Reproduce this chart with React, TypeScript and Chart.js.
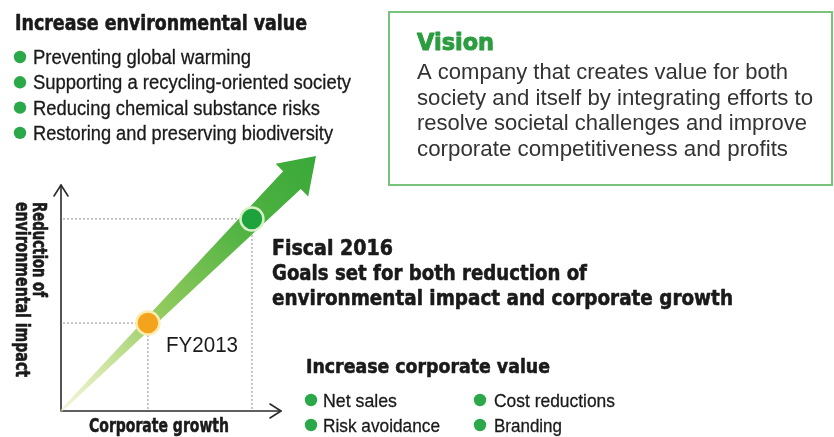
import React, { useEffect, useRef } from 'react';
import { Chart, registerables } from 'chart.js';

Chart.register(...registerables);

const W = 834;
const H = 437;

// ---- data ----
const milestoneLabels = ['FY2013', 'Fiscal 2016'];
const corporateGrowth = [39.5, 86.8];
const impactReduction = [38.9, 85.0];
const arrowTip = [115.9, 112.8];
const axisMax = [100, 100];

const envTitle = 'Increase environmental value';
const envItems = [
  'Preventing global warming',
  'Supporting a recycling-oriented society',
  'Reducing chemical substance risks',
  'Restoring and preserving biodiversity',
];
const visionTitle = 'Vision';
const visionLines = [
  'A company that creates value for both',
  'society and itself by integrating efforts to',
  'resolve societal challenges and improve',
  'corporate competitiveness and profits',
];
const goalLines = [
  'Fiscal 2016',
  'Goals set for both reduction of',
  'environmental impact and corporate growth',
];
const corpTitle = 'Increase corporate value';
const corpItems = ['Net sales', 'Cost reductions', 'Risk avoidance', 'Branding'];
const yAxisLines = ['Reduction of', 'environmental impact'];
const xAxisTitle = 'Corporate growth';

// ---- layout ----
const FONT = "'Liberation Sans', Arial, sans-serif";
const HEAVY = "'DejaVu Sans', 'Liberation Sans', sans-serif";
const BULLET_GREEN = '#2aa84a';
const TEXT = '#1a1a1a';

function fitText(
  ctx: CanvasRenderingContext2D,
  text: string,
  x: number,
  y: number,
  font: string,
  color: string,
  width: number,
  stroke = 0
) {
  ctx.save();
  ctx.font = font;
  ctx.textBaseline = 'alphabetic';
  ctx.textAlign = 'left';
  const w = ctx.measureText(text).width;
  const s = width / w;
  ctx.translate(x, y);
  ctx.scale(s, 1);
  ctx.fillStyle = color;
  ctx.fillText(text, 0, 0);
  if (stroke > 0) {
    ctx.strokeStyle = color;
    ctx.lineWidth = stroke;
    ctx.lineJoin = 'round';
    ctx.strokeText(text, 0, 0);
  }
  ctx.restore();
}

function dot(ctx: CanvasRenderingContext2D, x: number, y: number, r: number) {
  ctx.save();
  ctx.fillStyle = BULLET_GREEN;
  ctx.beginPath();
  ctx.arc(x, y, r, 0, Math.PI * 2);
  ctx.fill();
  ctx.restore();
}

const infographic = {
  id: 'infographic',
  beforeDatasetsDraw(chart: any) {
    const ctx: CanvasRenderingContext2D = chart.ctx;
    const xs = chart.scales.x;
    const ys = chart.scales.y;
    const x0 = xs.getPixelForValue(0);
    const y0 = ys.getPixelForValue(0);
    const xEnd = xs.getPixelForValue(axisMax[0]);
    const yEnd = ys.getPixelForValue(axisMax[1]);

    ctx.save();
    // axes
    ctx.strokeStyle = '#2b2b2b';
    ctx.lineWidth = 1.6;
    ctx.lineCap = 'round';
    ctx.lineJoin = 'round';
    ctx.beginPath();
    ctx.moveTo(x0, y0);
    ctx.lineTo(x0, yEnd);
    ctx.moveTo(x0, y0);
    ctx.lineTo(xEnd, y0);
    ctx.stroke();
    ctx.beginPath();
    ctx.moveTo(x0 - 7, yEnd + 11);
    ctx.lineTo(x0, yEnd);
    ctx.lineTo(x0 + 7, yEnd + 11);
    ctx.stroke();
    ctx.beginPath();
    ctx.moveTo(xEnd - 11, y0 - 7);
    ctx.lineTo(xEnd, y0);
    ctx.lineTo(xEnd - 11, y0 + 7);
    ctx.stroke();

    // dashed guides
    ctx.strokeStyle = '#8c8c8c';
    ctx.lineWidth = 1;
    ctx.lineCap = 'butt';
    ctx.setLineDash([2, 2]);
    for (let i = 0; i < corporateGrowth.length; i++) {
      const px = xs.getPixelForValue(corporateGrowth[i]);
      const py = ys.getPixelForValue(impactReduction[i]);
      ctx.beginPath();
      ctx.moveTo(x0 + 2, py);
      ctx.lineTo(px, py);
      ctx.moveTo(px, py);
      ctx.lineTo(px, y0 - 1);
      ctx.stroke();
    }
    ctx.setLineDash([]);

    // growth arrow
    const tx = xs.getPixelForValue(arrowTip[0]);
    const ty = ys.getPixelForValue(arrowTip[1]);
    const dx = tx - x0;
    const dy = ty - y0;
    const L = Math.hypot(dx, dy);
    const ux = dx / L;
    const uy = dy / L;
    const nx = -uy;
    const ny = ux;
    const headLen = 34;
    const headHalf = 23;
    const shaftHalf = 12.5;
    const startHalf = 1.2;
    const bx = tx - ux * headLen;
    const by = ty - uy * headLen;
    const g = ctx.createLinearGradient(x0, y0, tx, ty);
    g.addColorStop(0, 'rgba(228,238,185,0.55)');
    g.addColorStop(0.18, '#cde4a0');
    g.addColorStop(0.4, '#8fca5c');
    g.addColorStop(0.7, '#52b443');
    g.addColorStop(1, '#39a838');
    ctx.fillStyle = g;
    ctx.beginPath();
    ctx.moveTo(x0 + nx * startHalf, y0 + ny * startHalf);
    ctx.lineTo(bx + nx * shaftHalf, by + ny * shaftHalf);
    ctx.lineTo(bx + nx * headHalf, by + ny * headHalf);
    ctx.lineTo(tx, ty);
    ctx.lineTo(bx - nx * headHalf, by - ny * headHalf);
    ctx.lineTo(bx - nx * shaftHalf, by - ny * shaftHalf);
    ctx.lineTo(x0 - nx * startHalf, y0 - ny * startHalf);
    ctx.closePath();
    ctx.fill();
    ctx.restore();
  },
  afterDraw(chart: any) {
    const ctx: CanvasRenderingContext2D = chart.ctx;
    ctx.save();

    // environmental value block
    fitText(ctx, envTitle, 15, 30, `bold 21px ${HEAVY}`, TEXT, 292, 0.6);
    const envW = [218, 318, 287, 300];
    envItems.forEach((t, i) => {
      const cy = 57 + i * 25.3;
      dot(ctx, 20, cy, 6.2);
      fitText(ctx, t, 33, cy + 7, `20px ${FONT}`, TEXT, envW[i], 0.3);
    });

    // vision box
    ctx.strokeStyle = '#78c27b';
    ctx.lineWidth = 2;
    ctx.strokeRect(389, 12, 443, 173);
    fitText(ctx, visionTitle, 417, 50, `bold 23px ${HEAVY}`, '#2c9c40', 77, 1.0);
    const visW = [371, 396, 390, 371];
    visionLines.forEach((t, i) => {
      fitText(ctx, t, 417, 79 + i * 25.5, `22px ${FONT}`, '#333333', visW[i]);
    });

    // goal text
    const goalW = [121, 315, 461];
    goalLines.forEach((t, i) => {
      fitText(ctx, t, 272, 255 + i * 25, `bold 21px ${HEAVY}`, TEXT, goalW[i], 0.6);
    });

    // FY2013 label
    fitText(ctx, milestoneLabels[0], 166, 352, `22px ${FONT}`, TEXT, 72);

    // axis titles
    fitText(ctx, xAxisTitle, 89, 432, `bold 20px ${HEAVY}`, TEXT, 140, 0.6);
    const yW = [95, 175];
    const yBase = [33, 16];
    yAxisLines.forEach((t, i) => {
      ctx.save();
      ctx.translate(yBase[i], 202);
      ctx.rotate(Math.PI / 2);
      fitText(ctx, t, 0, 0, `bold 19px ${HEAVY}`, TEXT, yW[i], 0.6);
      ctx.restore();
    });

    // corporate value block
    fitText(ctx, corpTitle, 306, 373, `bold 20px ${HEAVY}`, TEXT, 244, 0.6);
    const corpX = [323, 494, 323, 494];
    const corpDotX = [311, 480, 311, 480];
    const corpY = [400, 400, 425, 425];
    const corpW = [74, 121, 117, 68];
    corpItems.forEach((t, i) => {
      dot(ctx, corpDotX[i], corpY[i], 6.2);
      fitText(ctx, t, corpX[i], corpY[i] + 7, `19px ${FONT}`, TEXT, corpW[i], 0.3);
    });

    ctx.restore();
  },
};

export default function App() {
  const ref = useRef<HTMLCanvasElement | null>(null);

  useEffect(() => {
    document.body.style.margin = '0';
    if (!ref.current) return;
    const chart = new Chart(ref.current, {
      type: 'scatter',
      data: {
        datasets: [
          {
            label: 'Milestones',
            data: corporateGrowth.map((x, i) => ({ x, y: impactReduction[i] })),
            pointRadius: 11.5,
            pointHoverRadius: 11.5,
            pointBorderWidth: 2.5,
            backgroundColor: ['#f4a31c', '#1ea33c'],
            borderColor: ['#fdebb0', '#d6f1c6'],
            showLine: false,
          } as any,
        ],
      },
      options: {
        animation: false,
        responsive: false,
        maintainAspectRatio: false,
        layout: { padding: { left: 61, top: 185, right: W - 281, bottom: H - 411 } },
        scales: {
          x: { type: 'linear', min: 0, max: axisMax[0], display: false },
          y: { type: 'linear', min: 0, max: axisMax[1], display: false },
        },
        plugins: {
          legend: { display: false },
          tooltip: { enabled: false },
        },
        clip: false as any,
      } as any,
      plugins: [infographic],
    });
    return () => chart.destroy();
  }, []);

  return (
    <div style={{ width: W, height: H, background: '#ffffff' }}>
      <canvas ref={ref} width={W} height={H} style={{ display: 'block', width: W, height: H }} />
    </div>
  );
}
